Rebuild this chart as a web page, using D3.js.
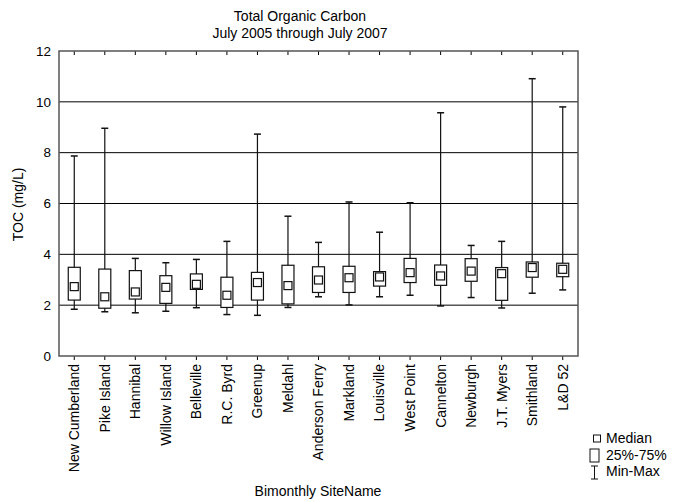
<!DOCTYPE html>
<html>
<head>
<meta charset="utf-8">
<script src="https://cdn.jsdelivr.net/npm/d3@7"></script>
<style>
  body { margin: 0; background: #fff; }
  svg text { font-family: Arial, "Liberation Sans", sans-serif; fill: #000; }
</style>
</head>
<body>
<svg id="chart" width="675" height="502"></svg>
<script>
// site names in river order
var sites = ["New Cumberland", "Pike Island", "Hannibal", "Willow Island", "Belleville",
  "R.C. Byrd", "Greenup", "Meldahl", "Anderson Ferry", "Markland", "Louisville",
  "West Point", "Cannelton", "Newburgh", "J.T. Myers", "Smithland", "L&D 52"];

// TOC statistics (mg/L)
var minVals    = [1.84, 1.74, 1.70, 1.76, 1.90, 1.63, 1.60, 1.91, 2.33, 2.01, 2.33, 2.39, 1.97, 2.30, 1.89, 2.47, 2.60];
var q1Vals     = [2.20, 1.88, 2.24, 2.07, 2.62, 1.91, 2.20, 2.05, 2.50, 2.50, 2.75, 2.89, 2.78, 2.94, 2.19, 3.10, 3.12];
var medianVals = [2.73, 2.33, 2.52, 2.70, 2.82, 2.39, 2.89, 2.77, 2.99, 3.08, 3.11, 3.28, 3.15, 3.34, 3.24, 3.48, 3.41];
var q3Vals     = [3.49, 3.42, 3.36, 3.16, 3.23, 3.10, 3.29, 3.57, 3.51, 3.53, 3.32, 3.84, 3.58, 3.83, 3.48, 3.70, 3.65];
var maxVals    = [7.87, 8.96, 3.84, 3.67, 3.80, 4.51, 8.73, 5.50, 4.47, 6.06, 4.87, 6.03, 9.57, 4.35, 4.51, 10.91, 9.80];

var yTicks = [0, 2, 4, 6, 8, 10, 12];
var gridVals = [2, 4, 6, 8, 10];

var data = sites.map(function(s, i) {
  return { site: s, min: minVals[i], q1: q1Vals[i], med: medianVals[i], q3: q3Vals[i], max: maxVals[i] };
});

var margin = {top: 51, right: 97, bottom: 146, left: 59},
    width = 675 - margin.left - margin.right,
    height = 502 - margin.top - margin.bottom;

var svg = d3.select("#chart");
var g = svg.append("g")
    .attr("transform", "translate(" + margin.left + "," + margin.top + ")");

var x = d3.scaleBand().domain(sites).range([0, width]).padding(0);
var y = d3.scaleLinear().domain([0, 12]).range([height, 0]);

// gridlines
g.selectAll(".grid").data(gridVals).enter().append("line")
    .attr("x1", 0).attr("x2", width)
    .attr("y1", function(d) { return y(d); })
    .attr("y2", function(d) { return y(d); })
    .attr("stroke", "#000").attr("stroke-width", 1);

// y axis labels (no tick marks)
var yAxis = g.append("g").call(d3.axisLeft(y).tickValues(yTicks).tickSize(0).tickPadding(8));
yAxis.select(".domain").remove();
yAxis.selectAll("text").attr("font-size", "13.5px").attr("font-family", "Arial, 'Liberation Sans', sans-serif");

// bottom axis with rotated names
var xAxis = g.append("g")
    .attr("transform", "translate(0," + height + ")")
    .call(d3.axisBottom(x).tickSize(4).tickPadding(0));
xAxis.select(".domain").remove();
xAxis.selectAll("line").attr("stroke", "#000");
xAxis.selectAll("text")
    .attr("font-size", "14px")
    .attr("font-family", "Arial, 'Liberation Sans', sans-serif")
    .attr("transform", "rotate(-90)")
    .attr("text-anchor", "end")
    .attr("x", -8).attr("y", 0).attr("dy", "0.35em");

// small ticks along the top edge
var topAxis = g.append("g").call(d3.axisTop(x).tickSize(-4).tickFormat(""));
topAxis.select(".domain").remove();
topAxis.selectAll("line").attr("stroke", "#000");

// plot frame
g.append("rect")
    .attr("width", width).attr("height", height)
    .attr("fill", "none").attr("stroke", "#555").attr("stroke-width", 1.5);

var bw = 12, cap = 7, sq = 8;
var box = g.selectAll(".box").data(data).enter().append("g")
    .attr("transform", function(d) { return "translate(" + (x(d.site) + x.bandwidth() / 2) + ",0)"; });

box.append("line")
    .attr("x1", 0).attr("x2", 0)
    .attr("y1", function(d) { return y(d.max); })
    .attr("y2", function(d) { return y(d.min); })
    .attr("stroke", "#111").attr("stroke-width", 1.2);
box.append("line")
    .attr("x1", -cap / 2).attr("x2", cap / 2)
    .attr("y1", function(d) { return y(d.max); })
    .attr("y2", function(d) { return y(d.max); })
    .attr("stroke", "#111").attr("stroke-width", 1.5);
box.append("line")
    .attr("x1", -cap / 2).attr("x2", cap / 2)
    .attr("y1", function(d) { return y(d.min); })
    .attr("y2", function(d) { return y(d.min); })
    .attr("stroke", "#111").attr("stroke-width", 1.5);
box.append("rect")
    .attr("x", -bw / 2).attr("width", bw)
    .attr("y", function(d) { return y(d.q3); })
    .attr("height", function(d) { return y(d.q1) - y(d.q3); })
    .attr("fill", "#fff").attr("stroke", "#111").attr("stroke-width", 1.2);
box.append("rect")
    .attr("x", -sq / 2).attr("width", sq)
    .attr("y", function(d) { return y(d.med) - sq / 2; })
    .attr("height", sq)
    .attr("fill", "#fff").attr("stroke", "#111").attr("stroke-width", 1.2);

// titles
svg.append("text").attr("x", 300).attr("y", 21).attr("text-anchor", "middle")
    .attr("font-size", "14px").text("Total Organic Carbon");
svg.append("text").attr("x", 300).attr("y", 38).attr("text-anchor", "middle")
    .attr("font-size", "14px").text("July 2005 through July 2007");
svg.append("text").attr("transform", "translate(18," + (margin.top + height / 2 + 1) + ") rotate(-90)")
    .attr("text-anchor", "middle").attr("dy", "0.35em").attr("font-size", "14px").text("TOC (mg/L)");
svg.append("text").attr("x", 318).attr("y", 496).attr("text-anchor", "middle")
    .attr("font-size", "14px").text("Bimonthly SiteName");

// legend
var leg = svg.append("g").attr("transform", "translate(594,0)");
leg.append("rect").attr("x", -0.5).attr("y", 435).attr("width", 7).attr("height", 7)
    .attr("fill", "#fff").attr("stroke", "#111");
leg.append("rect").attr("x", -4).attr("y", 449).attr("width", 9).attr("height", 13)
    .attr("fill", "#fff").attr("stroke", "#111");
leg.append("line").attr("x1", 0.5).attr("x2", 0.5).attr("y1", 466).attr("y2", 479).attr("stroke", "#111");
leg.append("line").attr("x1", -3).attr("x2", 4).attr("y1", 466).attr("y2", 466).attr("stroke", "#111");
leg.append("line").attr("x1", -3).attr("x2", 4).attr("y1", 479).attr("y2", 479).attr("stroke", "#111");
leg.selectAll(".lt").data(["Median", "25%-75%", "Min-Max"]).enter().append("text")
    .attr("x", 12).attr("y", function(d, i) { return 443 + i * 16.5; })
    .attr("font-size", "14px").text(function(d) { return d; });
</script>
</body>
</html>
